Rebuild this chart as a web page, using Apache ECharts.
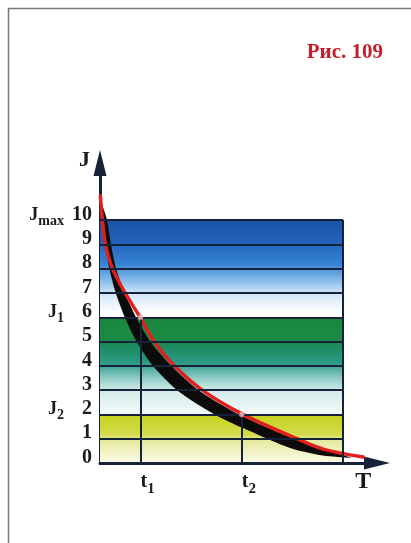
<!DOCTYPE html>
<html>
<head>
<meta charset="utf-8">
<script src="https://cdn.jsdelivr.net/npm/echarts@6/dist/echarts.min.js"></script>
<style>
html,body{margin:0;padding:0;background:#fff;}
#chart{width:411px;height:543px;}
</style>
</head>
<body>
<div id="chart"></div>
<script>
// ---- data ----
const titleText = 'Рис. 109';
const yLevels = [0, 1, 2, 3, 4, 5, 6, 7, 8, 9, 10];
const yTickLabels = ['0', '1', '2', '3', '4', '5', '6', '7', '8', '9', '10'];
const namedLevels = [10, 6, 2];
const namedMain = ['J', 'J', 'J'];
const namedSub = ['max', '1', '2'];
const tValues = [2, 7];
const tLevels = [6, 2];          // J1, J2 reached at t1, t2
const xLabelValues = [2, 7, 12.6];
const xLabelMain = ['t', 't', 'T'];
const xLabelSub = ['1', '2', ''];
const bandRight = 12;            // right edge of the coloured table
const bandBlue = [6, 10];
const bandGreen = [2, 6];
const bandYellow = [0, 2];
// black (thick) curve: outer (upper-right) edge and inner (lower-left) edge
const blackOuter = [
  [0.05, 10.82], [0.20, 10.41], [0.35, 10.0], [0.54, 9.01], [0.79, 8.02], [1.22, 7.0],
  [1.8, 5.97], [2.5, 4.98], [3.53, 3.99], [4.86, 3.0], [6.91, 1.98], [9.38, 1.07],
  [11.01, 0.62], [12.44, 0.21]
];
const blackInner = [
  [0.05, 10.82], [0.14, 10.0], [0.28, 9.01], [0.46, 8.02], [0.78, 7.0], [1.24, 5.97],
  [1.82, 4.98], [2.62, 3.99], [3.8, 3.0], [5.7, 1.98], [7.01, 1.46], [9.38, 0.62],
  [11.01, 0.31], [12.44, 0.21]
];
const redCurve = [
  [0.02, 11.0], [0.12, 10], [0.27, 9], [0.62, 8], [1.24, 7], [1.98, 6],
  [2.68, 5], [3.67, 4], [5.05, 3], [7.06, 2], [9.73, 1], [11.11, 0.55], [13.0, 0.25]
];
const yName = 'J';

// ---- chart ----
const FONT = '"Liberation Serif","Times New Roman",serif';
const INK = '#1b1b1b';
const LINE = '#16213a';

const chart = echarts.init(document.getElementById('chart'), null, {renderer: 'canvas'});

const hLines = yLevels.map(v => [{coord: [0, v]}, {coord: [bandRight, v]}]);
const vLines = [[{coord: [bandRight, 0]}, {coord: [bandRight, yLevels[yLevels.length - 1]]}]]
  .concat(tValues.map((t, i) => [{coord: [t, 0]}, {coord: [t, tLevels[i]]}]));

function grad(stops) {
  return {type: 'linear', x: 0, y: 0, x2: 0, y2: 1,
    colorStops: stops.map(s => ({offset: s[0], color: s[1]}))};
}

const option = {
  backgroundColor: '#ffffff',
  animation: false,
  title: {
    text: titleText, right: 23, top: 37,
    textStyle: {fontFamily: FONT, fontWeight: 'bold', fontSize: 21, color: '#c51f2b'}
  },
  grid: {left: 100, right: 34, top: 163, bottom: 80, containLabel: false},
  xAxis: {
    type: 'value', min: 0, max: 13.68,
    axisLine: {show: true, symbol: ['none', 'triangle'], symbolSize: [13, 26],
      lineStyle: {color: LINE, width: 3}},
    axisTick: {show: false},
    splitLine: {show: false},
    axisLabel: {
      customValues: xLabelValues, margin: 3, align: 'left',
      formatter: v => {
        const i = xLabelValues.indexOf(v);
        if (i < 0) return '';
        return xLabelSub[i] ? '{m|' + xLabelMain[i] + '}{s|' + xLabelSub[i] + '}' : '{b|' + xLabelMain[i] + '}';
      },
      rich: {
        m: {fontFamily: FONT, fontWeight: 'bold', fontSize: 20, color: INK},
        s: {fontFamily: FONT, fontWeight: 'bold', fontSize: 15, color: INK, padding: [16, 0, 0, 0]},
        b: {fontFamily: FONT, fontWeight: 'bold', fontSize: 24, color: INK, padding: [4, 0, 0, 0]}
      }
    }
  },
  yAxis: [{
    type: 'value', min: 0, max: 12.35, position: 'left',
    name: yName, nameLocation: 'end', nameGap: 3,
    nameTextStyle: {fontFamily: FONT, fontWeight: 'bold', fontSize: 22, color: INK,
      align: 'right', verticalAlign: 'middle', padding: [0, 10, 0, 0]},
    axisLine: {show: true, symbol: ['none', 'triangle'], symbolSize: [13, 26],
      lineStyle: {color: LINE, width: 3}},
    axisTick: {show: false},
    splitLine: {show: false},
    axisLabel: {
      customValues: yLevels, margin: 8,
      fontFamily: FONT, fontWeight: 'bold', fontSize: 20, color: INK,
      verticalAlign: 'bottom', lineHeight: 11,
      formatter: v => {
        const i = yLevels.indexOf(v);
        return i < 0 ? '' : yTickLabels[i];
      }
    }
  }, {
    type: 'value', min: 0, max: 12.35, position: 'left', offset: 0,
    axisLine: {show: false}, axisTick: {show: false}, splitLine: {show: false},
    axisLabel: {
      customValues: namedLevels, margin: 36, align: 'right',
      padding: [0, 0, 10, 0],
      formatter: v => {
        const i = namedLevels.indexOf(v);
        return i < 0 ? '' : '{m|' + namedMain[i] + '}{s|' + namedSub[i] + '}';
      },
      rich: {
        m: {fontFamily: FONT, fontWeight: 'bold', fontSize: 18, color: INK},
        s: {fontFamily: FONT, fontWeight: 'bold', fontSize: 14, color: INK, padding: [12, 0, 0, 0]}
      }
    }
  }],
  graphic: [
    {type: 'line', shape: {x1: 8, y1: 8.5, x2: 411, y2: 8.5}, style: {stroke: '#7a7a7a', lineWidth: 1.5}, silent: true},
    {type: 'line', shape: {x1: 8.5, y1: 8, x2: 8.5, y2: 543}, style: {stroke: '#7a7a7a', lineWidth: 1.5}, silent: true}
  ],
  series: [
    {
      name: 'bands', type: 'line', data: [], z: 1, silent: true,
      markArea: {
        silent: true,
        data: [
          [{coord: [0, bandBlue[1]], itemStyle: {color: grad([[0, '#1a54a6'], [0.22, '#2262b8'], [0.45, '#3683d4'], [0.6, '#7db4e8'], [0.75, '#cfe4f7'], [0.95, '#ffffff'], [1, '#ffffff']])}}, {coord: [bandRight, bandBlue[0]]}],
          [{coord: [0, bandGreen[1]], itemStyle: {color: grad([[0, '#1a873a'], [0.22, '#1b8a46'], [0.3, '#1a8a5e'], [0.48, '#2f9c88'], [0.62, '#8ccac4'], [0.75, '#d2ebe8'], [1, '#f4fbfa']])}}, {coord: [bandRight, bandGreen[0]]}],
          [{coord: [0, bandYellow[1]], itemStyle: {color: grad([[0, '#c4d21e'], [0.42, '#d4dc4c'], [0.52, '#e4e99a'], [1, '#fbfbe9']])}}, {coord: [bandRight, bandYellow[0]]}]
        ]
      }
    },
    {
      name: 'grid lines', type: 'line', data: [], z: 2, silent: true,
      markLine: {
        silent: true, symbol: ['none', 'none'], label: {show: false},
        lineStyle: {color: LINE, width: 2, type: 'solid'},
        data: hLines.concat(vLines)
      }
    },
    {
      name: 'black', type: 'custom', z: 3, silent: true,
      data: [blackOuter[0]],
      renderItem: (params, api) => {
        const outline = blackOuter.concat(blackInner.slice().reverse());
        return {
          type: 'polygon',
          shape: {points: outline.map(p => api.coord(p)), smooth: 0.25},
          style: {fill: '#0b0b0b'}
        };
      }
    },
    {
      name: 'red', type: 'line', data: redCurve, smooth: 0.35, showSymbol: false, z: 4,
      lineStyle: {color: '#e0201e', width: 3.5, cap: 'round'}
    },
    {
      name: 'points', type: 'scatter', z: 5, silent: true,
      data: tValues.map((t, i) => [t, tLevels[i]]),
      symbolSize: 5, itemStyle: {color: '#f4c4c0', borderColor: '#e08080', borderWidth: 0.5}
    }
  ]
};
chart.setOption(option);
</script>
</body>
</html>
